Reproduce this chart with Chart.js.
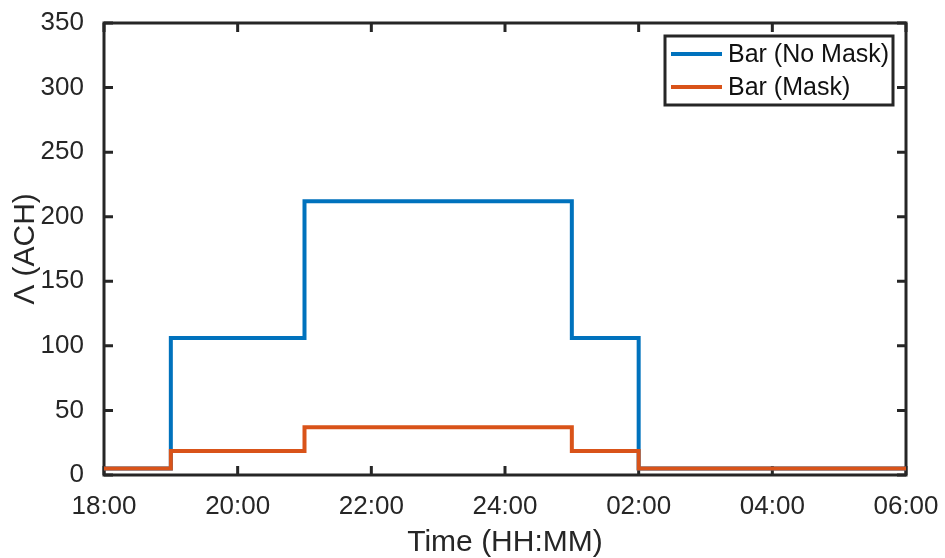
<!DOCTYPE html>
<html>
<head>
<meta charset="utf-8">
<script src="https://cdn.jsdelivr.net/npm/chart.js@4"></script>
<style>
  html, body { margin: 0; padding: 0; background: #fff; }
  #wrap { width: 945px; height: 558px; position: relative; }
</style>
</head>
<body>
<div id="wrap"><canvas id="chart" width="945" height="558"></canvas></div>
<script>
// step times (hours, 24+ means after midnight) and level of each step
var stepTimes = [18, 19, 21, 25, 26, 30];
var noMask = [5, 106, 212, 106, 5, 5];
var mask = [5, 18.5, 37, 18.5, 5, 5];
var xTicks = [18, 20, 22, 24, 26, 28, 30];
var yTicks = [0, 50, 100, 150, 200, 250, 300, 350];
var seriesNames = ["Bar (No Mask)", "Bar (Mask)"];

var axisColor = "#262626";
var fontName = "Arial, 'Liberation Sans', Helvetica, sans-serif";

var toPoints = function (vals) {
    var pts = [];
    for (var i = 0; i < stepTimes.length; i++) {
        pts.push({ x: stepTimes[i], y: vals[i] });
    }
    return pts;
};

var hourLabel = function (h) {
    // 24:00 stays as 24:00 like the original, later hours wrap
    var hh = h > 24 ? h - 24 : h;
    return (hh < 10 ? "0" : "") + hh + ":00";
};

// box around the plot with ticks pointing inwards on every side
var framePlugin = {
    id: "frame",
    beforeDatasetsDraw: function (chart) {
        var ctx = chart.ctx;
        var a = chart.chartArea;
        var xs = chart.scales.x, ys = chart.scales.y;
        var len = 9;
        ctx.save();
        ctx.strokeStyle = axisColor;
        ctx.lineWidth = 3;
        ctx.beginPath();
        xTicks.forEach(function (t) {
            var px = xs.getPixelForValue(t);
            ctx.moveTo(px, a.bottom); ctx.lineTo(px, a.bottom - len);
            ctx.moveTo(px, a.top); ctx.lineTo(px, a.top + len);
        });
        yTicks.forEach(function (t) {
            var py = ys.getPixelForValue(t);
            ctx.moveTo(a.left, py); ctx.lineTo(a.left + len, py);
            ctx.moveTo(a.right, py); ctx.lineTo(a.right - len, py);
        });
        ctx.stroke();
        ctx.strokeRect(a.left, a.top, a.right - a.left, a.bottom - a.top);
        ctx.restore();
    }
};

// legend box in the upper right corner
var legendPlugin = {
    id: "boxLegend",
    afterDraw: function (chart) {
        var ctx = chart.ctx;
        var bx = 665, by = 36, bw = 228, bh = 69;
        ctx.save();
        ctx.fillStyle = "#fff";
        ctx.fillRect(bx, by, bw, bh);
        ctx.strokeStyle = axisColor;
        ctx.lineWidth = 3;
        ctx.strokeRect(bx, by, bw, bh);
        ctx.font = "25px " + fontName;
        ctx.textBaseline = "middle";
        chart.data.datasets.forEach(function (ds, i) {
            var y = by + 18 + i * 33;
            ctx.strokeStyle = ds.borderColor;
            ctx.lineWidth = 4;
            ctx.beginPath();
            ctx.moveTo(bx + 6, y);
            ctx.lineTo(bx + 57, y);
            ctx.stroke();
            ctx.fillStyle = "#111";
            ctx.fillText(ds.label, bx + 63, y + 1);
        });
        ctx.restore();
    }
};

window.addEventListener("DOMContentLoaded", function () {
    var ctx1 = document.querySelector("#chart");
    new Chart(ctx1, {
        type: "line",
        data: {
            datasets: [
                {
                    label: seriesNames[0],
                    data: toPoints(noMask),
                    borderColor: "#0072BD",
                    borderWidth: 4,
                    stepped: "before",
                    pointRadius: 0,
                    fill: false,
                    order: 2
                },
                {
                    label: seriesNames[1],
                    data: toPoints(mask),
                    borderColor: "#D95319",
                    borderWidth: 4,
                    stepped: "before",
                    pointRadius: 0,
                    fill: false,
                    order: 1
                }
            ]
        },
        options: {
            responsive: false,
            animation: false,
            layout: { padding: { top: 23, right: 39, left: 0, bottom: 0 } },
            plugins: { legend: { display: false }, tooltip: { enabled: false } },
            scales: {
                x: {
                    type: "linear",
                    min: 18,
                    max: 30,
                    grid: { display: false },
                    border: { display: false },
                    afterBuildTicks: function (scale) {
                        scale.ticks = xTicks.map(function (v) { return { value: v }; });
                    },
                    afterFit: function (scale) {
                        scale.height = 83;
                        scale.paddingLeft = 0;
                        scale.paddingRight = 0;
                    },
                    ticks: {
                        color: axisColor,
                        font: { family: fontName, size: 26 },
                        padding: 8,
                        autoSkip: false,
                        maxRotation: 0,
                        callback: function (v) { return hourLabel(v); }
                    },
                    title: {
                        display: true,
                        text: "Time (HH:MM)",
                        color: axisColor,
                        font: { family: fontName, size: 30 },
                        padding: { top: 0, bottom: -3 }
                    }
                },
                y: {
                    min: 0,
                    max: 350,
                    grid: { display: false },
                    border: { display: false },
                    afterBuildTicks: function (scale) {
                        scale.ticks = yTicks.map(function (v) { return { value: v }; });
                    },
                    afterFit: function (scale) {
                        scale.width = 104;
                        scale.paddingTop = 0;
                        scale.paddingBottom = 0;
                    },
                    ticks: {
                        color: axisColor,
                        font: { family: fontName, size: 26 },
                        padding: 12,
                        autoSkip: false
                    },
                    title: {
                        display: true,
                        text: "\u039B (ACH)",
                        color: axisColor,
                        font: { family: fontName, size: 30 },
                        padding: { top: 8, bottom: 0 }
                    }
                }
            }
        },
        plugins: [framePlugin, legendPlugin]
    });
});
</script>
</body>
</html>
